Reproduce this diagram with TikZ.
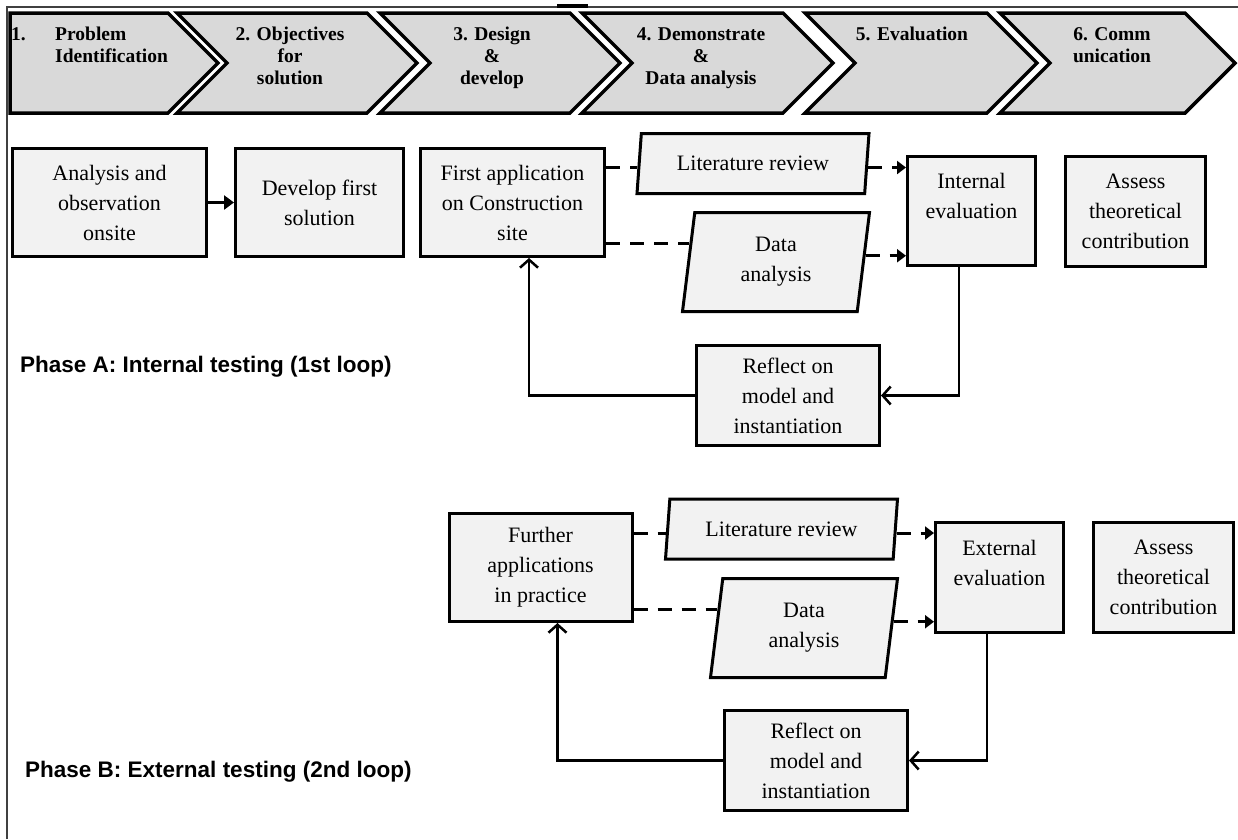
\documentclass[tikz,border=0pt]{standalone}
\usepackage{fontspec}
\setmainfont{Liberation Serif}
\setsansfont{Liberation Sans}
\usetikzlibrary{positioning}
\usetikzlibrary{calc}
\usetikzlibrary{shapes.geometric}
\usetikzlibrary{arrows.meta}

\definecolor{stepgray}{HTML}{D9D9D9}
\definecolor{boxgray}{HTML}{F2F2F2}

\begin{document}
\begin{tikzpicture}[
            x=1pt, y=-1pt,
            stepshape/.style={draw=black, line width=3.5pt, fill=stepgray},
            steplabel/.style={anchor=north, inner sep=0pt, align=center, font=\fontsize{19.5}{22}\selectfont\bfseries},
            whitebox/.style={rectangle, draw=black, line width=3pt, fill=boxgray, align=center, inner sep=2pt, font=\fontsize{22}{30}\selectfont},
            slantbox/.style={trapezium, trapezium left angle=77, trapezium right angle=103, trapezium stretches body, draw=black, line width=3pt, fill=boxgray, align=center, inner sep=2pt, font=\fontsize{22}{30}\selectfont},
            phaselabel/.style={anchor=west, inner sep=0pt, font=\sffamily\bfseries\fontsize{22.5}{27}\selectfont},
            solidarrow/.style={line width=3pt, -{Triangle[length=10pt, width=14pt]}},
            dashline/.style={line width=3pt, dash pattern=on 14pt off 10pt},
            dasharrow/.style={dashline, -{Triangle[length=9pt, width=13pt]}},
            looparrow/.style={line width=2.5pt, -{Straight Barb[length=8pt, width=18pt]}},
            ]
            \useasboundingbox (0,0) rectangle (1238,839);

            % frame
            \draw[line width=2pt, black!75] (7,839) -- (7,7) -- (1238,7);
            \draw[line width=4pt] (557,6) -- (588,6);

            % process steps
            \draw[stepshape] (10,13) -- (168,13) -- (218,63) -- (168,113) -- (10,113) -- cycle;
            \draw[stepshape] (177,13) -- (367,13) -- (417,63) -- (367,113) -- (177,113) -- (227,63) -- cycle;
            \draw[stepshape] (380,13) -- (570,13) -- (620,63) -- (570,113) -- (380,113) -- (430,63) -- cycle;
            \draw[stepshape] (582,13) -- (783,13) -- (833,63) -- (783,113) -- (582,113) -- (632,63) -- cycle;
            \draw[stepshape] (805,13) -- (987,13) -- (1037,63) -- (987,113) -- (805,113) -- (855,63) -- cycle;
            \draw[stepshape] (1000,13) -- (1185,13) -- (1235,63) -- (1185,113) -- (1000,113) -- (1050,63) -- cycle;

            \node[steplabel, anchor=north west, align=left] (s1) at (11,27) {\makebox[44pt][l]{1.}Problem\\\hspace*{44pt}Identification};
            \node[steplabel] (s2) at (290,27) {2. Objectives\\for\\solution};
            \node[steplabel] (s3) at (492,27) {3. Design\\\&\\develop};
            \node[steplabel] (s4) at (701,27) {4. Demonstrate\\\&\\Data analysis};
            \node[steplabel] (s5) at (912,27) {5. Evaluation};
            \node[steplabel] (s6) at (1112,27) {6. Comm\\unication};

            % phase A
            \node[whitebox, minimum width=194pt, minimum height=108pt] (ana) at (109.5,202.5) {Analysis and\\observation\\onsite};
            \node[whitebox, minimum width=168pt, minimum height=108pt, right=26pt of ana] (dev) {Develop first\\solution};
            \node[whitebox, minimum width=184pt, minimum height=108pt, right=14pt of dev] (first) {First application\\on Construction\\site};
            \node[slantbox, minimum width=232pt, minimum height=60pt] (lit1) at (753,163.5) {Literature review};
            \node[slantbox, minimum width=187pt, minimum height=99pt] (data1) at (776,262) {Data\\analysis};
            \node[whitebox, minimum width=128pt, minimum height=109pt] (int1) at (971.5,211) {Internal\\evaluation\\~};
            \node[whitebox, minimum width=140pt, minimum height=110pt, right=27pt of int1] (ass1) {Assess\\theoretical\\contribution};
            \node[whitebox, minimum width=183pt, minimum height=100pt] (ref1) at (788,395.5) {Reflect on\\model and\\instantiation};
            \node[phaselabel] (phaseA) at (20,367) {Phase A: Internal testing (1st loop)};

            \draw[solidarrow] (ana.east) -- (dev.west);
            \draw[dashline] (first.east |- lit1.182) -- (lit1.182);
            \draw[dashline] (first.east |- data1.168) -- (data1.168);
            \draw[dasharrow] (lit1.-2) -- (int1.west |- lit1.-2);
            \draw[dasharrow] (data1.4) -- (int1.west |- data1.4);
            \draw[looparrow] ([xshift=-12.5pt]int1.south) |- (ref1.east);
            \draw[looparrow] (ref1.west) -| ([xshift=16.5pt]first.south);

            % phase B
            \node[whitebox, minimum width=183pt, minimum height=108pt] (further) at ($(first)+(28,365)$) {Further\\applications\\in practice};
            \node[slantbox, minimum width=232pt, minimum height=60pt] (lit2) at ($(lit1)+(28.5,365.5)$) {Literature review};
            \node[slantbox, minimum width=187pt, minimum height=99pt] (data2) at ($(data1)+(28,366)$) {Data\\analysis};
            \node[whitebox, minimum width=128pt, minimum height=110pt] (ext) at ($(int1)+(28,366.5)$) {External\\evaluation\\~};
            \node[whitebox, minimum width=140pt, minimum height=110pt, right=27pt of ext] (ass2) {Assess\\theoretical\\contribution};
            \node[whitebox, minimum width=183pt, minimum height=100pt] (ref2) at ($(ref1)+(28,365)$) {Reflect on\\model and\\instantiation};
            \node[phaselabel] (phaseB) at (25,772) {Phase B: External testing (2nd loop)};

            \draw[dashline] (further.east |- lit2.182) -- (lit2.182);
            \draw[dashline] (further.east |- data2.168) -- (data2.168);
            \draw[dasharrow] (lit2.-2) -- (ext.west |- lit2.-2);
            \draw[dasharrow] (data2.4) -- (ext.west |- data2.4);
            \draw[looparrow] ([xshift=-12.5pt]ext.south) |- (ref2.east);
            \draw[looparrow] (ref2.west) -| ([xshift=17pt]further.south);
        \end{tikzpicture}
\end{document}
